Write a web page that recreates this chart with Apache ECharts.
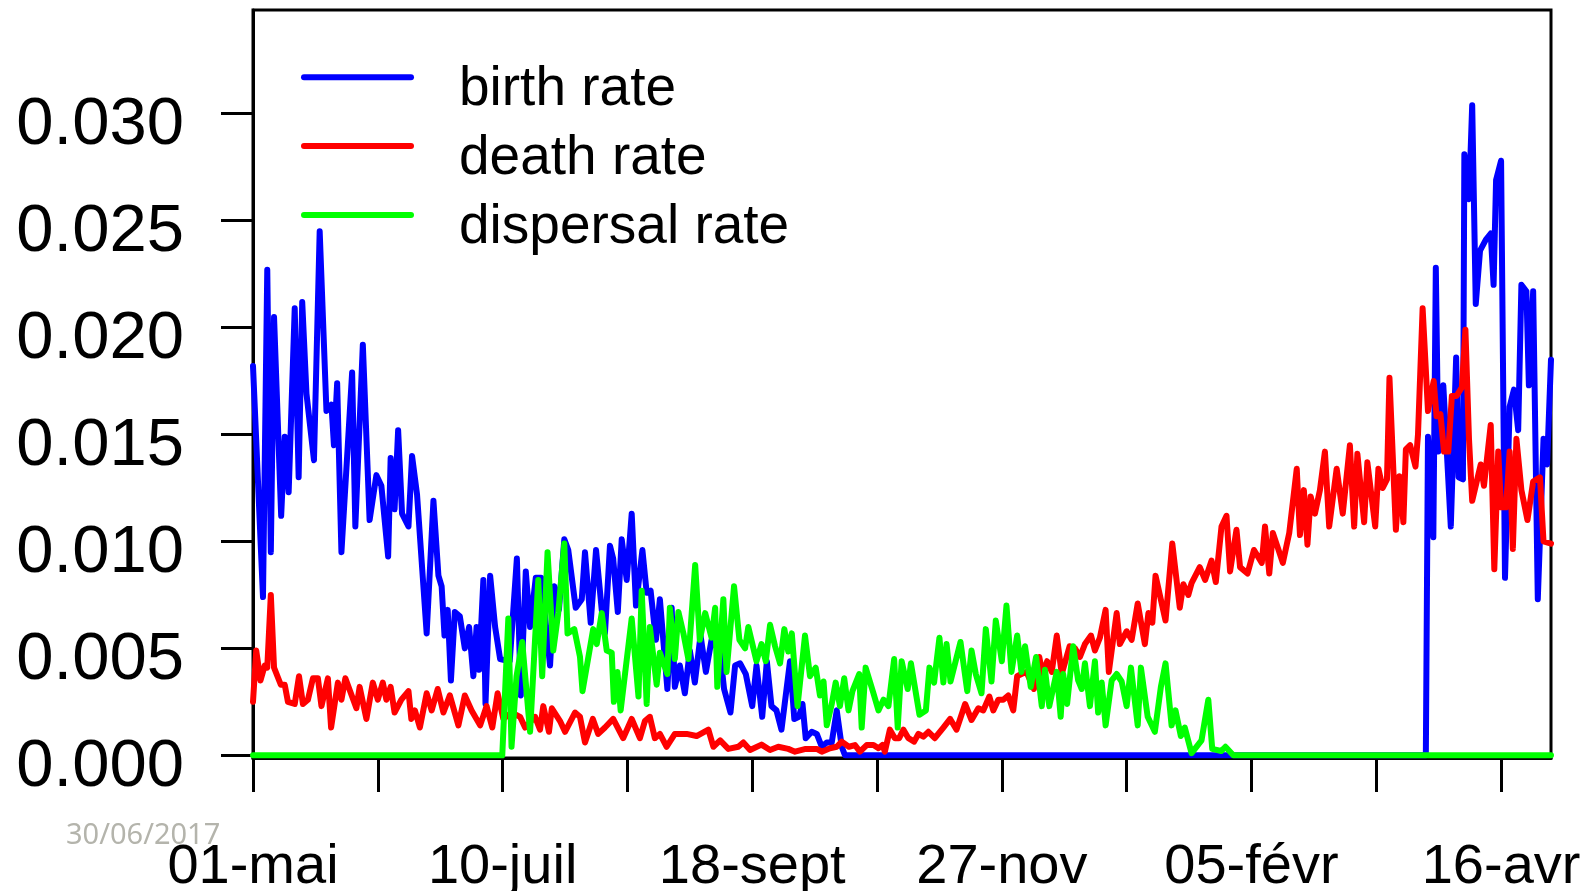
<!DOCTYPE html>
<html>
<head>
<meta charset="utf-8">
<script src="https://cdn.jsdelivr.net/npm/echarts@6/dist/echarts.min.js"></script>
<style>
  html, body { margin: 0; background: #fff; }
  #chart { width: 1594px; height: 891px; }
</style>
</head>
<body>
<div id="chart"></div>
<script>
// x = days since 01-mai, rates in units of 0.001
const xTicks = [0, 35, 70, 105, 140, 175, 210, 245, 280, 315, 350]
const xLabelDays = [0, 70, 140, 210, 280, 350]
const xLabels = ['01-mai', '10-juil', '18-sept', '27-nov', '05-févr', '16-avr']
const yTicks = [0, 5, 10, 15, 20, 25, 30]
const yLabels = ['0.000', '0.005', '0.010', '0.015', '0.020', '0.025', '0.030']
const seriesNames = ['birth rate', 'death rate', 'dispersal rate']

const birthRate = [
  [0, 18.2], [2.8, 7.4], [4.0, 22.7], [5.0, 9.5], [5.9, 20.5], [7.9, 11.2], [8.9, 14.9], [10.0, 12.3],
  [11.7, 20.9], [12.8, 13.0], [13.8, 21.2], [15.0, 16.9], [17.1, 13.8], [18.7, 24.5], [20.6, 16.1],
  [22.0, 16.4], [22.7, 14.5], [23.6, 17.4], [24.8, 9.5], [27.8, 17.9], [28.7, 10.7], [30.8, 19.2],
  [32.7, 11.0], [34.6, 13.1], [36.0, 12.6], [37.9, 9.3], [38.6, 13.9], [39.7, 11.5], [40.7, 15.2],
  [41.8, 11.3], [43.6, 10.7], [44.6, 14.0], [46.0, 12.2], [48.7, 5.7], [50.6, 11.9], [52.0, 8.4],
  [52.9, 7.9], [53.7, 5.6], [54.6, 6.8], [55.5, 3.5], [56.6, 6.7], [58.0, 6.5], [59.4, 5.0], [60.6, 6.0],
  [61.8, 3.7], [62.7, 6.0], [63.4, 4.0], [64.6, 8.2], [65.2, 2.4], [66.5, 8.4], [67.9, 6.0], [69.3, 4.5],
  [72.0, 4.4], [74.0, 9.2], [75.1, 2.8], [76.5, 8.6], [77.7, 6.0], [79.3, 8.3], [80.8, 8.3], [83.3, 4.2],
  [84.5, 7.9], [85.8, 6.8], [87.3, 10.1], [88.4, 9.6], [90.5, 6.9], [92.2, 7.3], [93.1, 9.5], [94.7, 6.2],
  [96.2, 9.6], [97.8, 6.8], [98.7, 5.7], [100.1, 9.8], [101.0, 9.2], [102.3, 6.7], [103.4, 10.1],
  [104.8, 8.2], [106.2, 11.3], [107.4, 7.0], [109.2, 9.6], [110.4, 7.6], [111.5, 7.7], [113.0, 5.4],
  [114.1, 7.3], [116.2, 3.1], [117.4, 6.9], [118.3, 3.2], [119.7, 4.2], [121.1, 2.9], [122.5, 4.9],
  [123.9, 3.4], [125.5, 5.6], [127.0, 3.9], [128.6, 5.4], [131.0, 4.8], [132.1, 3.1], [133.9, 2.0],
  [135.2, 4.2], [136.6, 4.3], [138.2, 3.8], [140.0, 2.3], [141.2, 4.2], [142.8, 1.8], [144.1, 4.4],
  [145.4, 2.3], [146.8, 2.1], [148.2, 1.2], [150.6, 4.4], [151.8, 1.7], [153.1, 1.8], [154.1, 2.4],
  [155.0, 0.8], [156.7, 1.1], [158.1, 1.0], [159.5, 0.4], [160.9, 0.6], [162.3, 0.6], [163.7, 2.1],
  [165.1, 0.4], [166.0, 0], [328.9, 0], [329.5, 14.9], [331.0, 10.2], [331.7, 22.8], [332.4, 14.2],
  [333.8, 17.3], [335.9, 10.7], [337.4, 18.6], [338.1, 13.0], [339.3, 12.9], [339.7, 28.1], [341.0, 26.0],
  [341.9, 30.4], [342.9, 21.1], [344.1, 23.6], [345.7, 24.1], [347.1, 24.4], [347.9, 22.0], [348.6, 26.9],
  [350.0, 27.8], [351.1, 8.3], [352.4, 16.3], [353.6, 17.1], [354.8, 15.2], [355.7, 22.0], [357.1, 21.7],
  [357.8, 17.3], [359.0, 21.7], [360.3, 7.3], [361.9, 14.8], [362.9, 13.6], [364.0, 18.5]
]

const deathRate = [
  [0, 2.5], [0.9, 4.9], [2.1, 3.5], [3.3, 4.2], [4.0, 4.1], [5.0, 7.5], [5.9, 4.1], [7.8, 3.3], [8.9, 3.3],
  [9.8, 2.5], [11.7, 2.4], [12.9, 3.7], [14.0, 2.4], [15.4, 2.6], [16.8, 3.6], [18.2, 3.6], [19.2, 2.3],
  [21.0, 3.6], [21.9, 1.3], [23.8, 3.4], [24.8, 2.6], [25.9, 3.6], [29.0, 2.2], [29.9, 3.2], [31.8, 1.7],
  [33.6, 3.4], [35.0, 2.6], [36.4, 3.4], [37.4, 2.6], [38.6, 3.2], [39.7, 2.0], [41.6, 2.6], [43.6, 3.0],
  [44.4, 1.7], [45.4, 2.1], [46.8, 1.3], [48.7, 2.9], [50.1, 2.1], [51.8, 3.1], [53.4, 2.0], [55.2, 2.8],
  [57.6, 1.4], [59.4, 2.8], [61.3, 2.1], [63.7, 1.4], [65.5, 2.3], [67.1, 1.3], [68.6, 2.9], [70.2, 1.7],
  [72.5, 2.0], [74.9, 1.8], [76.3, 1.3], [79.1, 1.8], [80.5, 1.2], [81.4, 2.3], [83.0, 1.1], [83.8, 2.2],
  [86.1, 1.6], [87.5, 1.1], [90.3, 2.0], [91.7, 1.8], [93.1, 0.6], [95.3, 1.7], [96.8, 1.0], [98.7, 1.3],
  [101.0, 1.7], [103.8, 0.8], [106.2, 1.7], [108.5, 0.8], [109.9, 1.6], [111.3, 1.8], [112.7, 0.8],
  [114.1, 1.0], [116.0, 0.4], [118.3, 1.0], [121.6, 1.0], [124.4, 0.9], [127.7, 1.2], [129.1, 0.4],
  [131.0, 0.7], [133.3, 0.3], [136.1, 0.4], [137.5, 0.6], [139.4, 0.25], [142.6, 0.5], [145.0, 0.25],
  [147.3, 0.4], [150.1, 0.3], [152.0, 0.17], [155.0, 0.3], [158.1, 0.3], [159.5, 0.17], [161.8, 0.33],
  [163.7, 0.4], [165.1, 0.64], [167.1, 0.4], [168.8, 0.48], [170.2, 0.17], [172.1, 0.48], [174.0, 0.48],
  [175.4, 0.33], [176.5, 0.48], [177.2, 0.17], [178.6, 1.2], [180.0, 0.8], [181.2, 0.8], [182.4, 1.2],
  [183.8, 0.8], [185.4, 0.64], [186.6, 1.0], [188.0, 0.87], [189.4, 1.1], [191.2, 0.8], [193.6, 1.3],
  [195.5, 1.7], [197.3, 1.2], [199.7, 2.4], [201.5, 1.65], [203.4, 2.2], [204.8, 2.1], [206.5, 2.75],
  [207.6, 2.1], [209.0, 2.6], [210.4, 2.6], [211.8, 2.8], [213.2, 2.1], [214.3, 3.7], [215.5, 3.8],
  [216.9, 3.9], [219.0, 3.1], [220.5, 4.6], [221.4, 3.8], [222.7, 4.4], [224.0, 3.9], [225.4, 5.6],
  [226.8, 3.8], [229.0, 5.1], [230.5, 5.0], [231.9, 4.6], [233.3, 5.2], [235.0, 5.6], [236.1, 4.9],
  [237.5, 5.5], [239.1, 6.8], [240.0, 3.9], [242.2, 6.65], [243.1, 5.2], [245.0, 5.8], [246.4, 5.4],
  [248.1, 7.1], [250.1, 5.2], [251.1, 6.65], [252.2, 6.2], [253.1, 8.4], [255.9, 6.3], [257.8, 9.9],
  [259.9, 6.9], [260.9, 8.0], [262.3, 7.5], [263.2, 8.05], [265.5, 8.8], [267.0, 8.2], [268.8, 9.1],
  [270.0, 8.1], [271.6, 10.7], [273.0, 11.2], [274.0, 8.6], [275.8, 10.55], [276.8, 8.8], [278.9, 8.5],
  [280.7, 9.6], [282.9, 9.0], [283.8, 10.7], [285.0, 8.5], [286.0, 10.4], [288.8, 9.0], [290.6, 10.4],
  [292.7, 13.4], [293.6, 10.3], [294.7, 12.4], [295.7, 9.85], [296.6, 12.1], [297.8, 11.3], [299.2, 12.4],
  [300.6, 14.2], [301.8, 10.7], [303.9, 13.4], [305.6, 11.3], [307.6, 14.5], [308.8, 10.7], [309.7, 14.1],
  [311.6, 10.9], [312.5, 13.7], [314.7, 10.7], [315.6, 13.4], [316.8, 12.5], [318.0, 12.9], [318.7, 17.65],
  [320.5, 10.55], [321.5, 13.05], [322.6, 10.9], [323.3, 14.3], [324.5, 14.5], [326.0, 13.5], [326.7, 15.0],
  [328.0, 20.9], [329.5, 16.1], [331.1, 17.5], [331.9, 15.85], [333.0, 15.95], [334.0, 14.2], [335.2, 14.2],
  [336.2, 16.8], [337.5, 16.8], [339.0, 17.2], [340.0, 19.9], [341.0, 14.8], [341.9, 11.9], [344.3, 13.6],
  [345.2, 12.6], [347.1, 15.45], [348.1, 8.7], [349.2, 14.2], [350.0, 11.6], [351.4, 11.6], [352.4, 14.2],
  [353.3, 9.65], [354.3, 14.8], [355.7, 12.4], [357.4, 11.0], [359.0, 12.8], [360.9, 13.0], [361.9, 10.0],
  [364.0, 9.9]
]

const dispersalRate = [
  [0, 0], [69.9, 0], [71.6, 6.4], [72.5, 0.4], [73.9, 3.7], [75.5, 5.3], [77.7, 1.1], [80.0, 8.2],
  [81.1, 3.7], [82.6, 9.5], [84.2, 4.9], [85.6, 6.65], [87.3, 9.9], [88.2, 5.7], [90.1, 5.9], [91.7, 4.6],
  [92.4, 3.0], [95.4, 5.9], [96.4, 5.2], [97.8, 6.65], [99.2, 4.9], [100.6, 4.8], [101.2, 2.5],
  [102.2, 3.9], [103.1, 2.1], [106.2, 6.4], [108.1, 2.75], [109.0, 7.7], [110.4, 2.4], [111.3, 6.0],
  [113.2, 3.3], [114.1, 4.8], [116.2, 3.8], [116.9, 6.9], [118.3, 4.5], [119.3, 6.7], [120.7, 5.7],
  [122.1, 4.5], [124.0, 8.9], [125.3, 5.4], [126.8, 6.65], [128.6, 5.5], [129.6, 6.9], [130.2, 3.2],
  [131.9, 7.3], [132.8, 3.9], [134.9, 7.9], [136.4, 5.4], [138.0, 5.0], [138.9, 6.0], [141.2, 4.4],
  [142.6, 5.2], [143.8, 4.4], [145.0, 6.1], [146.4, 5.1], [147.8, 4.3], [149.0, 5.9], [150.1, 4.85],
  [151.1, 5.7], [152.7, 2.3], [154.8, 5.6], [156.2, 3.7], [157.8, 4.1], [159.0, 2.8], [160.0, 3.45],
  [160.9, 1.4], [162.3, 2.4], [163.4, 3.4], [164.6, 2.3], [165.8, 3.6], [167.0, 2.1], [168.1, 3.0],
  [170.0, 3.8], [170.7, 1.3], [171.8, 4.1], [174.0, 2.9], [175.4, 2.1], [176.8, 2.6], [178.2, 2.3],
  [179.8, 4.5], [180.8, 1.3], [181.9, 4.4], [183.6, 3.1], [184.5, 4.3], [186.9, 1.9], [188.7, 2.1],
  [189.7, 4.1], [191.0, 3.4], [192.5, 5.5], [193.6, 3.4], [194.5, 5.2], [195.6, 3.45], [198.4, 5.3],
  [200.3, 3.0], [201.5, 4.9], [202.7, 3.8], [204.3, 2.9], [205.5, 5.9], [207.1, 3.45], [208.3, 6.3],
  [210.0, 4.4], [211.3, 7.0], [212.7, 3.9], [214.3, 5.6], [215.5, 3.9], [216.5, 5.1], [218.1, 3.2],
  [219.6, 4.6], [221.2, 2.3], [222.1, 4.0], [223.3, 2.3], [225.4, 3.9], [226.5, 1.8], [227.2, 3.8],
  [228.3, 2.4], [230.0, 5.1], [231.4, 3.5], [232.4, 3.1], [233.3, 4.3], [234.7, 2.3], [236.1, 4.4],
  [237.0, 2.0], [238.0, 3.4], [239.1, 1.4], [240.8, 3.5], [242.2, 3.8], [243.6, 3.45], [245.0, 2.3],
  [246.2, 4.1], [248.1, 1.4], [249.0, 4.1], [250.9, 1.8], [252.9, 1.1], [254.6, 3.2], [255.9, 4.3],
  [257.6, 1.4], [258.7, 2.1], [260.2, 0.9], [261.3, 1.3], [263.2, 0.1], [266.0, 0.7], [267.9, 2.6],
  [269.0, 0.3], [270.2, 0.25], [271.5, 0.2], [272.7, 0.4], [274.9, 0], [364, 0]
]

const colors = ['#0000ff', '#ff0000', '#00ff00']
const font = 'Liberation Sans, Arial, sans-serif'

// hand-placed legend, like R's legend() box-less style
const legendGraphics = []
seriesNames.forEach((name, i) => {
  const y = 77.3 + i * 68.8
  legendGraphics.push({
    type: 'line',
    shape: { x1: 304, y1: y, x2: 411, y2: y },
    style: { stroke: colors[i], lineWidth: 6, lineCap: 'round' }
  })
  legendGraphics.push({
    type: 'text',
    x: 459,
    y: y + 13,
    style: {
      text: name,
      fontSize: 55,
      fontFamily: font,
      fill: '#000',
      verticalAlign: 'middle'
    }
  })
})

const chart = echarts.init(document.getElementById('chart'))
chart.setOption({
  animation: false,
  color: colors,
  grid: {
    left: 253,
    right: 43,
    top: 10,
    bottom: 133,
    show: true,
    borderColor: '#000',
    borderWidth: 3,
    containLabel: false,
    outerBoundsMode: 'none'
  },
  graphic: legendGraphics.concat([{
    type: 'text',
    left: 66,
    top: 821,
    style: {
      text: '30/06/2017',
      fontSize: 29,
      fontFamily: 'Noto Sans, sans-serif',
      fill: '#b4b4ac'
    }
  }]),
  xAxis: {
    type: 'value',
    min: 0,
    max: 364,
    axisLine: { onZero: false, lineStyle: { color: '#000', width: 3 } },
    axisTick: { customValues: xTicks, length: 34, lineStyle: { color: '#000', width: 3 } },
    axisLabel: {
      customValues: xLabelDays,
      formatter: v => xLabels[xLabelDays.indexOf(v)],
      fontSize: 56,
      fontFamily: font,
      color: '#000',
      margin: 82
    },
    splitLine: { show: false }
  },
  yAxis: {
    type: 'value',
    min: -0.126,
    max: 34.85,
    axisLine: { show: true, lineStyle: { color: '#000', width: 3 } },
    axisTick: { show: true, customValues: yTicks, length: 32, lineStyle: { color: '#000', width: 3 } },
    axisLabel: {
      customValues: yTicks,
      formatter: v => yLabels[yTicks.indexOf(v)],
      fontSize: 67,
      fontFamily: font,
      color: '#000',
      margin: 69,
      verticalAlign: 'top',
      lineHeight: 24
    },
    splitLine: { show: false }
  },
  series: [birthRate, deathRate, dispersalRate].map((data, i) => ({
    name: seriesNames[i],
    type: 'line',
    data: data,
    showSymbol: false,
    symbol: 'none',
    itemStyle: { color: colors[i] },
    lineStyle: { color: colors[i], width: 6, join: 'round', cap: 'round' }
  }))
})
</script>
</body>
</html>
